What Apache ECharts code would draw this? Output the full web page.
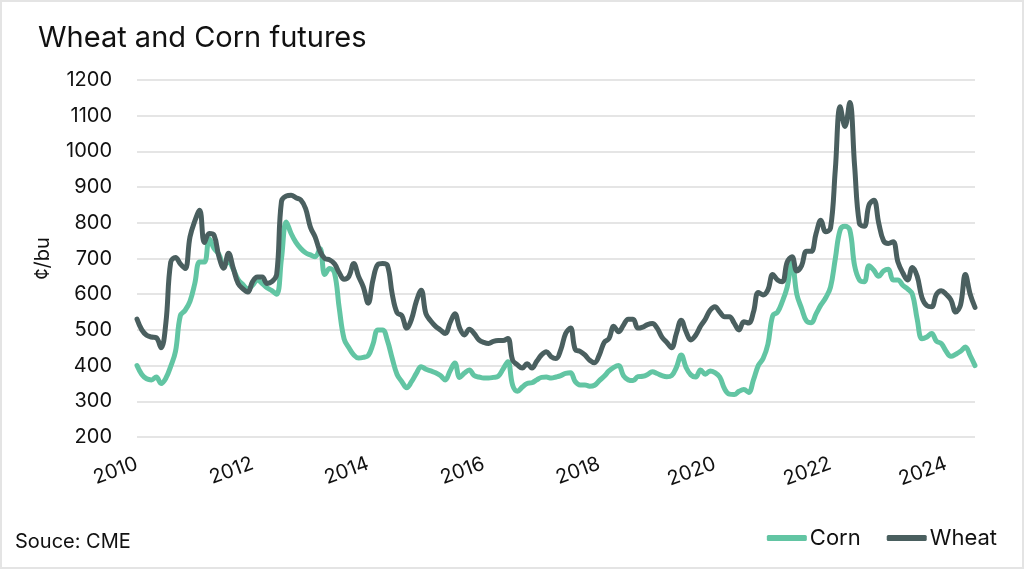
<!DOCTYPE html>
<html>
<head>
<meta charset="utf-8">
<script src="https://cdn.jsdelivr.net/npm/echarts@6/dist/echarts.min.js"></script>
<style>
html,body{margin:0;padding:0;background:#fff;}
#wrap{position:relative;width:1024px;height:569px;box-sizing:border-box;border:2px solid #e4e4e4;}
#chart{position:absolute;left:-2px;top:-2px;width:1024px;height:569px;}
</style>
</head>
<body>
<div id="wrap"><div id="chart"></div></div>
<script>
// Monthly series, starting January 2010
const startYear = 2010;
const tickYears = ['2010','2012','2014','2016','2018','2020','2022','2024'];
const yTicks = [200,300,400,500,600,700,800,900,1000,1100,1200];
const seriesNames = ['Corn','Wheat'];
const corn = [
400,375,363,360,368,350,365,398,440,540,555,580,
630,690,690,755,728,712,682,690,670,641,627,615,
625,640,630,618,610,600,700,802,770,745,728,716,
710,705,728,655,672,660,560,475,450,430,421,423,
428,460,500,500,470,420,375,355,338,355,378,397,
390,385,380,372,360,385,407,367,379,388,372,368,
365,365,367,370,390,411,345,328,340,350,352,360,
367,368,365,368,372,378,380,355,346,346,342,345,
358,370,385,395,400,372,360,358,369,370,375,383,
378,372,369,372,395,430,395,374,368,388,376,385,
380,368,335,320,319,328,333,325,360,400,420,460,
540,550,580,620,690,600,560,525,520,545,570,590,
620,700,780,790,780,680,640,635,680,667,650,665,
670,640,640,625,615,600,530,475,480,490,468,462,
440,426,432,440,452,428,400
];
const wheat = [
530,500,485,480,478,450,520,690,703,685,672,760,
805,835,745,770,765,706,673,715,672,630,615,606,
635,648,648,630,635,655,860,875,877,870,864,840,
788,760,720,700,696,685,660,642,650,686,650,620,
575,640,683,686,681,600,548,540,505,530,580,611,
545,525,510,500,490,520,545,505,486,502,490,472,
465,462,468,470,470,476,415,402,393,405,393,412,
430,439,425,420,445,490,505,445,440,430,415,408,
430,465,476,510,495,513,530,530,505,508,515,518,
505,480,465,450,490,527,495,472,485,510,530,555,
565,550,537,537,519,500,523,519,550,605,598,612,
655,640,635,690,705,665,680,720,720,770,807,775,
785,950,1125,1070,1137,960,798,790,850,863,800,750,
742,747,690,660,640,675,650,590,568,565,600,610,
600,584,550,570,655,600,563
];

const months = corn.map((_, i) => {
  const y = startYear + Math.floor(i / 12);
  const m = (i % 12) + 1;
  return y + '-' + (m < 10 ? '0' + m : m);
});

const FONT = 'Inter';
const chart = echarts.init(document.getElementById('chart'), null, {renderer: 'canvas'});
chart.setOption({
  animation: false,
  backgroundColor: 'transparent',
  title: {
    text: 'Wheat and Corn futures',
    left: 33, top: 19,
    textStyle: {fontFamily: FONT, fontSize: 29, fontWeight: 'normal', color: '#111'}
  },
  graphic: [{
    type: 'text', left: 15, top: 532,
    style: {text: 'Souce: CME', fontFamily: FONT, fontSize: 20, fill: '#111'}
  }],
  legend: {
    data: seriesNames,
    right: 22, top: 522,
    icon: 'roundRect',
    itemWidth: 40, itemHeight: 6, itemGap: 26,
    textStyle: {fontFamily: FONT, fontSize: 22, color: '#111', padding: [0,0,0,-2]}
  },
  grid: {left: 137, right: 49, top: 80, bottom: 132, containLabel: false},
  xAxis: {
    type: 'category',
    data: months,
    boundaryGap: false,
    axisLine: {show: false},
    axisTick: {show: false},
    splitLine: {show: false},
    axisLabel: {
      interval: (idx, val) => val.slice(5) === '01' && tickYears.indexOf(val.slice(0,4)) >= 0,
      formatter: (val) => val.slice(0,4),
      rotate: 20,
      margin: 26,
      fontFamily: FONT, fontSize: 20, color: '#111'
    }
  },
  yAxis: {
    type: 'value',
    min: 200, max: 1200, interval: 100,
    name: '¢/bu',
    nameLocation: 'middle',
    nameGap: 84,
    nameTextStyle: {fontFamily: FONT, fontSize: 20, color: '#111'},
    axisLine: {show: false},
    axisTick: {show: false},
    splitLine: {lineStyle: {color: '#dcdcdc', width: 1.5}},
    axisLabel: {margin: 25, fontFamily: FONT, fontSize: 20, color: '#111',
      formatter: (v) => String(v)}
  },
  series: [
    {name: 'Corn', type: 'line', data: corn, smooth: 0.4, showSymbol: false,
     color: '#62c5a3', lineStyle: {width: 5, color: '#62c5a3', cap: 'round', join: 'round'}},
    {name: 'Wheat', type: 'line', data: wheat, smooth: 0.4, showSymbol: false,
     color: '#4a5f5f', lineStyle: {width: 5, color: '#4a5f5f', cap: 'round', join: 'round'}}
  ]
});
</script>
</body>
</html>
